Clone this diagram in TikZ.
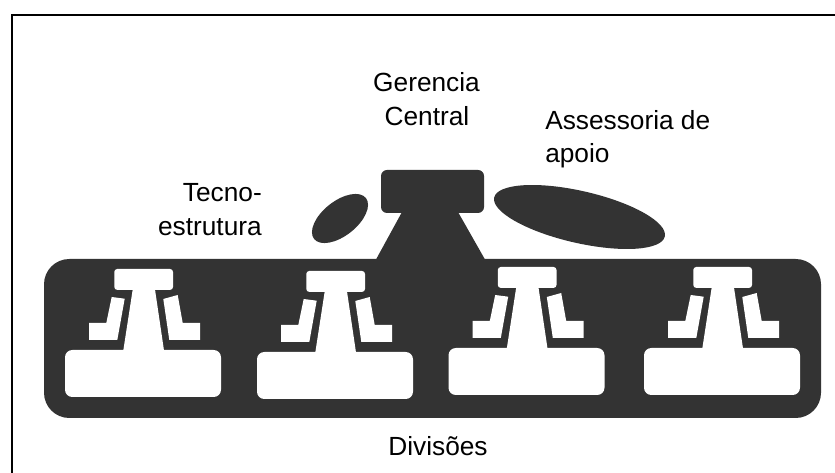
\documentclass[tikz,border=0pt]{standalone}
\usepackage{fontspec}
\setmainfont{Liberation Sans}
\usetikzlibrary{shapes.geometric}
\definecolor{dark}{HTML}{333333}
\tikzset{
  x=0.75pt,y=-0.75pt,
  label text/.style={inner sep=0pt,anchor=base,font=\fontsize{19.7}{24}\selectfont,text=black},
  blob/.style={ellipse,fill=dark,inner sep=0pt,outer sep=0pt},
  unit/.pic={
    \fill[white,rounded corners=2.2pt] (114.3,269) rectangle (173,289.9);
    \fill[white] (132.7,289.5) -- (155,289.5) -- (164,350.5) -- (123.3,350.5) -- cycle;
    \fill[white,rounded corners=5.5pt] (65,350) rectangle (221,397);
    \fill[white] (111.7,297) -- (124.7,298.7) -- (117.3,340) -- (89,340) -- (89,323) -- (106.3,323) -- cycle;
    \fill[white] (163.3,299) -- (177.7,295) -- (182.7,323) -- (200,323) -- (200,340) -- (169.3,340) -- cycle;
  }
}
\begin{document}
\begin{tikzpicture}
\useasboundingbox (0,0) rectangle (835,473);
\fill[white] (0,0) rectangle (835,473);
\draw[black,line width=1.5pt] (12,473) -- (12,15) -- (835,15);
% main band
\fill[dark,rounded corners=19pt] (44,259) rectangle (821,418);
% apex
\fill[dark] (402,212) -- (458,212) -- (485,259.5) -- (376,259.5) -- cycle;
\fill[dark,rounded corners=4.5pt] (381,170) rectangle (484,213);
\node[blob,minimum width=49.5pt,minimum height=26pt,rotate=38.3] (techno) at (340,218.5) {};
\node[blob,minimum width=131.25pt,minimum height=39pt,rotate=-12.9] (support) at (579.5,217) {};
\pic at (0,0) {unit};
\pic at (192,2) {unit};
\pic at (383.5,-2) {unit};
\pic at (579,-2) {unit};
% labels
\node[label text] (ger) at (426.5,92) {Gerencia};
\node[label text] (cen) at (427,126) {Central};
\node[label text,anchor=base west] (ass) at (545,130) {Assessoria de};
\node[label text,anchor=base west] (apo) at (545,163) {apoio};
\node[label text,anchor=base east] (tec) at (262,202) {Tecno-};
\node[label text,anchor=base east] (est) at (262,236) {estrutura};
\node[label text] (div) at (438,456) {Divisões};
\end{tikzpicture}
\end{document}
